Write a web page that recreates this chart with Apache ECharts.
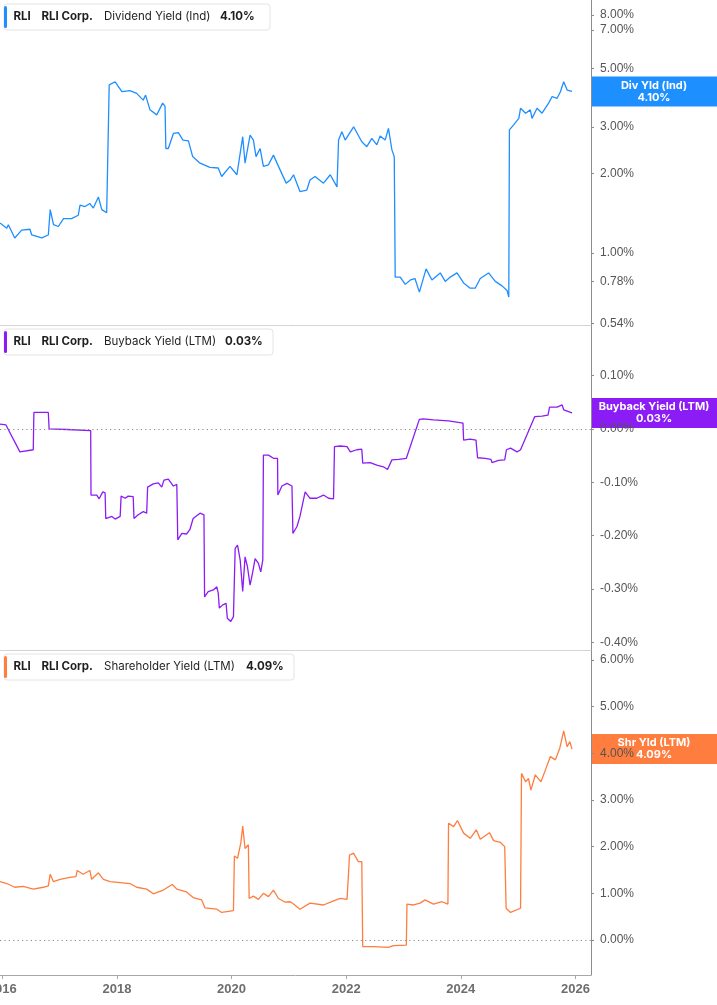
<!DOCTYPE html>
<html>
<head>
<meta charset="utf-8">
<script src="https://cdn.jsdelivr.net/npm/echarts@6/dist/echarts.min.js"></script>
<style>
html, body { margin: 0; padding: 0; background: #fff; }
#chart { width: 717px; height: 1005px; }
</style>
</head>
<body>
<div id="chart"></div>
<script>
// Dividend Yield (Ind), %
const divDates = [
    '2015-12-17', '2016-01-29', '2016-02-08', '2016-03-20', '2016-05-03', '2016-06-25', '2016-07-06', '2016-09-08',
    '2016-10-20', '2016-11-01', '2016-11-22', '2016-12-23', '2017-01-25', '2017-03-17', '2017-04-29', '2017-05-10',
    '2017-06-11', '2017-07-12', '2017-08-03', '2017-09-04', '2017-09-26', '2017-10-27', '2017-11-07', '2017-11-12',
    '2017-12-20', '2018-02-01', '2018-03-24', '2018-05-06', '2018-06-17', '2018-07-02', '2018-07-30', '2018-09-11',
    '2018-10-19', '2018-11-03', '2018-11-08', '2018-11-24', '2018-12-26', '2019-01-27', '2019-02-25', '2019-04-01',
    '2019-04-28', '2019-06-14', '2019-08-16', '2019-10-08', '2019-10-30', '2019-12-22', '2020-02-04', '2020-02-25',
    '2020-03-12', '2020-03-27', '2020-04-11', '2020-04-28', '2020-05-19', '2020-06-05', '2020-07-01', '2020-07-22',
    '2020-08-23', '2020-09-24', '2020-10-26', '2020-12-14', '2021-01-09', '2021-01-30', '2021-03-12', '2021-04-24',
    '2021-05-15', '2021-06-16', '2021-08-09', '2021-09-21', '2021-11-03', '2021-11-13', '2021-12-04', '2021-12-25',
    '2022-02-17', '2022-04-10', '2022-05-12', '2022-06-13', '2022-07-15', '2022-08-05', '2022-09-06', '2022-09-27',
    '2022-10-19', '2022-11-03', '2022-11-09', '2022-12-11', '2023-01-12', '2023-02-14', '2023-03-15', '2023-04-12',
    '2023-05-25', '2023-07-01', '2023-08-23', '2023-09-24', '2023-10-26', '2023-12-08', '2024-01-19', '2024-03-01',
    '2024-04-02', '2024-05-04', '2024-06-26', '2024-08-08', '2024-09-20', '2024-10-22', '2024-11-02', '2024-11-06',
    '2024-12-03', '2025-01-05', '2025-01-16', '2025-02-17', '2025-03-19', '2025-03-30', '2025-05-01', '2025-06-02',
    '2025-07-14', '2025-08-05', '2025-09-06', '2025-09-27', '2025-10-18', '2025-11-09', '2025-12-10',
];
const divValues = [
    1.30, 1.24, 1.28, 1.14, 1.22, 1.23, 1.17, 1.14,
    1.17, 1.46, 1.28, 1.26, 1.35, 1.35, 1.39, 1.52,
    1.50, 1.54, 1.48, 1.63, 1.46, 1.42, 1.42, 4.34,
    4.46, 4.09, 4.13, 4.03, 3.80, 3.97, 3.49, 3.34,
    3.70, 3.60, 2.49, 2.49, 2.84, 2.86, 2.68, 2.66,
    2.32, 2.19, 2.11, 2.10, 1.95, 2.13, 1.98, 2.39,
    2.76, 2.19, 2.46, 2.80, 2.68, 2.32, 2.49, 2.13,
    2.16, 2.35, 2.13, 1.84, 1.89, 1.98, 1.71, 1.73,
    1.89, 1.95, 1.84, 1.98, 1.78, 2.68, 2.88, 2.68,
    3.01, 2.64, 2.53, 2.72, 2.57, 2.78, 2.68, 2.97,
    2.46, 2.32, 0.81, 0.81, 0.76, 0.79, 0.80, 0.71,
    0.87, 0.79, 0.84, 0.78, 0.81, 0.84, 0.77, 0.735,
    0.735, 0.80, 0.84, 0.78, 0.75, 0.72, 0.68, 2.93,
    3.06, 3.24, 3.54, 3.39, 3.49, 3.24, 3.54, 3.39,
    3.70, 3.92, 3.86, 4.09, 4.46, 4.15, 4.10,
];

// Buyback Yield (LTM), %
const buyDates = [
    '2015-12-17', '2016-01-24', '2016-04-22', '2016-07-16', '2016-07-20', '2016-10-20', '2016-10-25', '2017-02-15',
    '2017-07-17', '2017-07-19', '2017-08-25', '2017-09-09', '2017-10-02', '2017-10-17', '2017-10-21', '2017-11-29',
    '2017-12-20', '2018-01-21', '2018-01-27', '2018-02-22', '2018-03-13', '2018-04-14', '2018-04-19', '2018-05-16',
    '2018-06-17', '2018-07-09', '2018-07-15', '2018-08-20', '2018-09-21', '2018-10-13', '2018-10-27', '2018-11-24',
    '2018-12-26', '2019-01-17', '2019-01-23', '2019-02-18', '2019-03-20', '2019-04-10', '2019-05-01', '2019-06-14',
    '2019-07-09', '2019-07-13', '2019-08-05', '2019-09-07', '2019-09-29', '2019-10-08', '2019-10-15', '2019-11-06',
    '2019-11-27', '2019-12-05', '2019-12-27', '2020-01-13', '2020-01-24', '2020-02-08', '2020-02-25', '2020-03-12',
    '2020-03-27', '2020-04-11', '2020-04-28', '2020-05-15', '2020-05-30', '2020-06-20', '2020-07-05', '2020-07-18',
    '2020-07-22', '2020-08-23', '2020-09-24', '2020-10-20', '2020-10-22', '2020-11-17', '2020-12-19', '2021-01-20',
    '2021-01-26', '2021-02-21', '2021-03-12', '2021-04-14', '2021-05-15', '2021-06-27', '2021-08-09', '2021-09-10',
    '2021-10-12', '2021-10-18', '2021-11-24', '2022-01-06', '2022-01-27', '2022-03-09', '2022-04-10', '2022-04-16',
    '2022-06-02', '2022-07-15', '2022-08-26', '2022-09-21', '2022-10-19', '2022-12-01', '2023-01-19', '2023-04-12',
    '2023-05-07', '2023-07-11', '2023-10-15', '2023-10-21', '2024-01-15', '2024-01-19', '2024-03-01', '2024-04-07',
    '2024-04-17', '2024-06-05', '2024-07-11', '2024-07-18', '2024-08-29', '2024-10-07', '2024-10-18', '2024-11-13',
    '2024-12-25', '2025-01-16', '2025-04-16', '2025-06-02', '2025-07-10', '2025-07-20', '2025-09-06', '2025-10-08',
    '2025-10-18', '2025-12-10',
];
const buyValues = [
    0.009, 0.0075, -0.043, -0.039, 0.031, 0.031, 0.0, -0.001,
    -0.003, -0.124, -0.124, -0.131, -0.118, -0.120, -0.168, -0.164,
    -0.169, -0.164, -0.126, -0.130, -0.126, -0.127, -0.168, -0.161,
    -0.155, -0.158, -0.109, -0.103, -0.101, -0.109, -0.096, -0.094,
    -0.107, -0.104, -0.208, -0.196, -0.197, -0.189, -0.168, -0.158,
    -0.161, -0.315, -0.305, -0.302, -0.296, -0.308, -0.336, -0.330,
    -0.327, -0.355, -0.361, -0.352, -0.224, -0.218, -0.246, -0.305,
    -0.240, -0.258, -0.293, -0.268, -0.243, -0.252, -0.268, -0.246,
    -0.049, -0.049, -0.055, -0.055, -0.124, -0.107, -0.102, -0.107,
    -0.196, -0.183, -0.164, -0.118, -0.130, -0.130, -0.124, -0.130,
    -0.131, -0.033, -0.032, -0.033, -0.043, -0.039, -0.038, -0.064,
    -0.063, -0.068, -0.071, -0.076, -0.058, -0.057, -0.055, 0.018,
    0.019, 0.017, 0.015, 0.012, 0.011, -0.021, -0.019, -0.021,
    -0.054, -0.055, -0.057, -0.063, -0.059, -0.058, -0.039, -0.036,
    -0.043, -0.039, 0.023, 0.024, 0.026, 0.041, 0.041, 0.045,
    0.036, 0.030,
];

// Shareholder Yield (LTM), %
const shrDates = [
    '2015-12-17', '2016-01-29', '2016-03-20', '2016-05-13', '2016-07-16', '2016-09-18', '2016-10-20', '2016-11-01',
    '2016-11-22', '2017-01-03', '2017-03-06', '2017-04-14', '2017-04-22', '2017-05-30', '2017-07-12', '2017-07-23',
    '2017-09-04', '2017-10-06', '2017-11-18', '2018-01-21', '2018-03-24', '2018-05-06', '2018-07-09', '2018-08-20',
    '2018-10-23', '2018-12-19', '2019-01-17', '2019-03-20', '2019-05-01', '2019-06-24', '2019-07-15', '2019-09-29',
    '2019-10-30', '2020-01-13', '2020-01-19', '2020-02-08', '2020-02-29', '2020-03-12', '2020-03-27', '2020-04-17',
    '2020-04-22', '2020-05-19', '2020-06-20', '2020-07-22', '2020-08-23', '2020-09-24', '2020-10-26', '2020-12-08',
    '2021-01-09', '2021-01-30', '2021-03-12', '2021-05-15', '2021-08-09', '2021-10-12', '2021-11-24', '2022-01-06',
    '2022-01-22', '2022-02-17', '2022-03-19', '2022-04-10', '2022-04-16', '2022-06-24', '2022-09-27', '2022-10-29',
    '2023-01-19', '2023-01-23', '2023-03-05', '2023-04-17', '2023-05-18', '2023-07-11', '2023-09-03', '2023-10-11',
    '2023-10-15', '2023-11-16', '2023-12-11', '2024-01-19', '2024-03-01', '2024-04-09', '2024-05-04', '2024-07-02',
    '2024-07-28', '2024-09-10', '2024-10-07', '2024-10-16', '2024-11-13', '2025-01-16', '2025-01-22', '2025-02-17',
    '2025-03-08', '2025-03-23', '2025-04-20', '2025-05-26', '2025-06-23', '2025-07-25', '2025-08-26', '2025-09-23',
    '2025-10-18', '2025-11-09', '2025-11-26', '2025-12-10',
];
const shrValues = [
    1.25, 1.21, 1.13, 1.15, 1.09, 1.13, 1.16, 1.41,
    1.25, 1.30, 1.34, 1.36, 1.49, 1.41, 1.49, 1.30,
    1.44, 1.30, 1.25, 1.23, 1.21, 1.13, 1.09, 0.99,
    1.07, 1.19, 1.09, 1.03, 0.91, 0.86, 0.69, 0.66,
    0.59, 0.63, 1.80, 1.75, 2.08, 2.44, 1.96, 2.04,
    0.89, 0.94, 0.87, 1.00, 0.93, 1.07, 0.89, 0.81,
    0.82, 0.77, 0.66, 0.79, 0.75, 0.84, 0.89, 0.87,
    1.82, 1.86, 1.68, 1.68, -0.14, -0.14, -0.16, -0.12,
    -0.11, 0.77, 0.75, 0.79, 0.86, 0.77, 0.82, 0.77,
    2.50, 2.43, 2.56, 2.29, 2.18, 2.36, 2.16, 2.30,
    2.13, 2.09, 2.00, 0.68, 0.59, 0.68, 3.57, 3.39,
    3.46, 3.21, 3.54, 3.39, 3.64, 3.93, 3.86, 4.11,
    4.48, 4.14, 4.25, 4.09,
];

// axis ticks
const yearTicks = ['2016-01-01', '2018-01-01', '2020-01-01', '2022-01-01', '2024-01-01', '2026-01-01'];
const divTicks = [0.54, 0.78, 1, 2, 3, 5, 7, 8];
const buyTicks = [-0.4, -0.3, -0.2, -0.1, 0, 0.1];
const shrTicks = [0, 1, 2, 3, 4, 5, 6];

const panels = [
    { name: 'Dividend Yield (Ind)', short: 'Div Yld (Ind)', last: 4.10, color: '#1e8fff', boxW: 266, valueX: 220 },
    { name: 'Buyback Yield (LTM)', short: 'Buyback Yield (LTM)', last: 0.03, color: '#8c1cf5', boxW: 269, valueX: 225 },
    { name: 'Shareholder Yield (LTM)', short: 'Shr Yld (LTM)', last: 4.09, color: '#ff7d3f', boxW: 290, valueX: 246 },
];

const toTime = d => Date.parse(`${d}T00:00:00Z`);
const X_MIN = toTime('2015-12-17');
const X_MAX = toTime('2026-04-10');
const PANEL_TOP = [0, 325, 650];
const PANEL_H = 325;
const AXIS_GRAY = '#8c8c8c';
const LABEL_FONT = '"Liberation Sans", Arial, sans-serif';
const UI_FONT = 'Inter, "Noto Sans", sans-serif';

const pct = v => `${v.toFixed(2)}%`;
const zip = (dates, values) => dates.map((d, i) => [toTime(d), values[i]]);

const grids = PANEL_TOP.map(top => ({
    left: 0, right: 126, top, height: PANEL_H, containLabel: false, outerBoundsMode: 'none',
}));

// x as a plain value axis over timestamps, so custom year ticks are easy
const xAxes = [0, 1, 2].map(i => ({
    type: 'value',
    gridIndex: i,
    min: X_MIN,
    max: X_MAX,
    axisLine: { show: true, onZero: false, lineStyle: { color: i < 2 ? '#d4d4d4' : '#a8a8a8', width: 1 } },
    axisTick: i < 2 ? { show: false } : {
        show: true, length: 4, customValues: yearTicks.map(toTime), lineStyle: { color: '#a8a8a8' },
    },
    axisLabel: i < 2 ? { show: false } : {
        show: true,
        customValues: yearTicks.map(toTime),
        formatter: v => String(new Date(v).getUTCFullYear()),
        color: '#6e6e6e',
        fontSize: 13,
        fontWeight: 'bold',
        fontFamily: LABEL_FONT,
        margin: 8,
    },
    splitLine: { show: false },
}));

const yBase = (i, ticks) => ({
    gridIndex: i,
    position: 'right',
    axisLine: { show: true, lineStyle: { color: AXIS_GRAY, width: 1 } },
    axisTick: { show: true, length: 3, customValues: ticks, lineStyle: { color: AXIS_GRAY } },
    axisLabel: {
        customValues: ticks, formatter: pct, color: '#555', fontSize: 12, fontFamily: LABEL_FONT, margin: 9,
        padding: [3, 0, 0, 0],
    },
    splitLine: { show: false },
});

const yAxes = [
    Object.assign(yBase(0, divTicks), { type: 'log', logBase: 10, min: 0.533, max: 9.11 }),
    Object.assign(yBase(1, buyTicks), { type: 'value', min: -0.4146, max: 0.195 }),
    Object.assign(yBase(2, shrTicks), { type: 'value', min: -0.75, max: 6.214 }),
];

const zeroLine = {
    silent: true,
    symbol: 'none',
    label: { show: false },
    lineStyle: { type: [1.2, 3.2], color: '#8a8a8a', width: 1.2 },
    data: [{ yAxis: 0 }],
};

const seriesData = [zip(divDates, divValues), zip(buyDates, buyValues), zip(shrDates, shrValues)];
const series = seriesData.map((data, i) => {
    const s = {
        type: 'line',
        xAxisIndex: i,
        yAxisIndex: i,
        data,
        showSymbol: false,
        lineStyle: { color: panels[i].color, width: 1.3 },
        itemStyle: { color: panels[i].color },
    };
    if (i > 0) s.markLine = zeroLine;
    return s;
});

const chart = echarts.init(document.getElementById('chart'));
chart.setOption({
    animation: false,
    backgroundColor: '#fff',
    grid: grids,
    xAxis: xAxes,
    yAxis: yAxes,
    series,
});

// legend boxes top-left and value boxes on the right axis
const graphics = [];
panels.forEach((p, i) => {
    const top = PANEL_TOP[i];
    graphics.push({
        type: 'rect', shape: { x: 4, y: top + 4, width: p.boxW, height: 26, r: 3 },
        style: { fill: '#fff', stroke: '#e4e4e4', lineWidth: 1 }, z: 10,
    });
    graphics.push({
        type: 'rect', shape: { x: 4, y: top + 6, width: 3, height: 22, r: 1.5 },
        style: { fill: p.color }, z: 11,
    });
    [
        { text: 'RLI', x: 13.5, bold: true },
        { text: 'RLI Corp.', x: 41.5, bold: true },
        { text: p.name, x: 104, bold: false },
        { text: pct(p.last), x: p.valueX, bold: true },
    ].forEach(t => {
        graphics.push({
            type: 'text', x: t.x, y: top + 17, z: 11,
            style: {
                text: t.text, fill: '#1f1f1f', font: `${t.bold ? 'bold ' : ''}11.5px ${UI_FONT}`,
                verticalAlign: 'middle',
            },
        });
    });

    const py = chart.convertToPixel({ yAxisIndex: i }, p.last);
    graphics.push({
        type: 'rect', shape: { x: 591, y: py - 15, width: 126, height: 30 },
        style: { fill: p.color }, z: -1,
    });
    graphics.push({
        type: 'text', x: 654, y: py, z: -1,
        style: {
            text: `${p.short}\n${pct(p.last)}`, fill: '#fff', font: `bold 11px ${UI_FONT}`,
            align: 'center', verticalAlign: 'middle', lineHeight: 12,
        },
    });
});
chart.setOption({ graphic: graphics });
</script>
</body>
</html>
